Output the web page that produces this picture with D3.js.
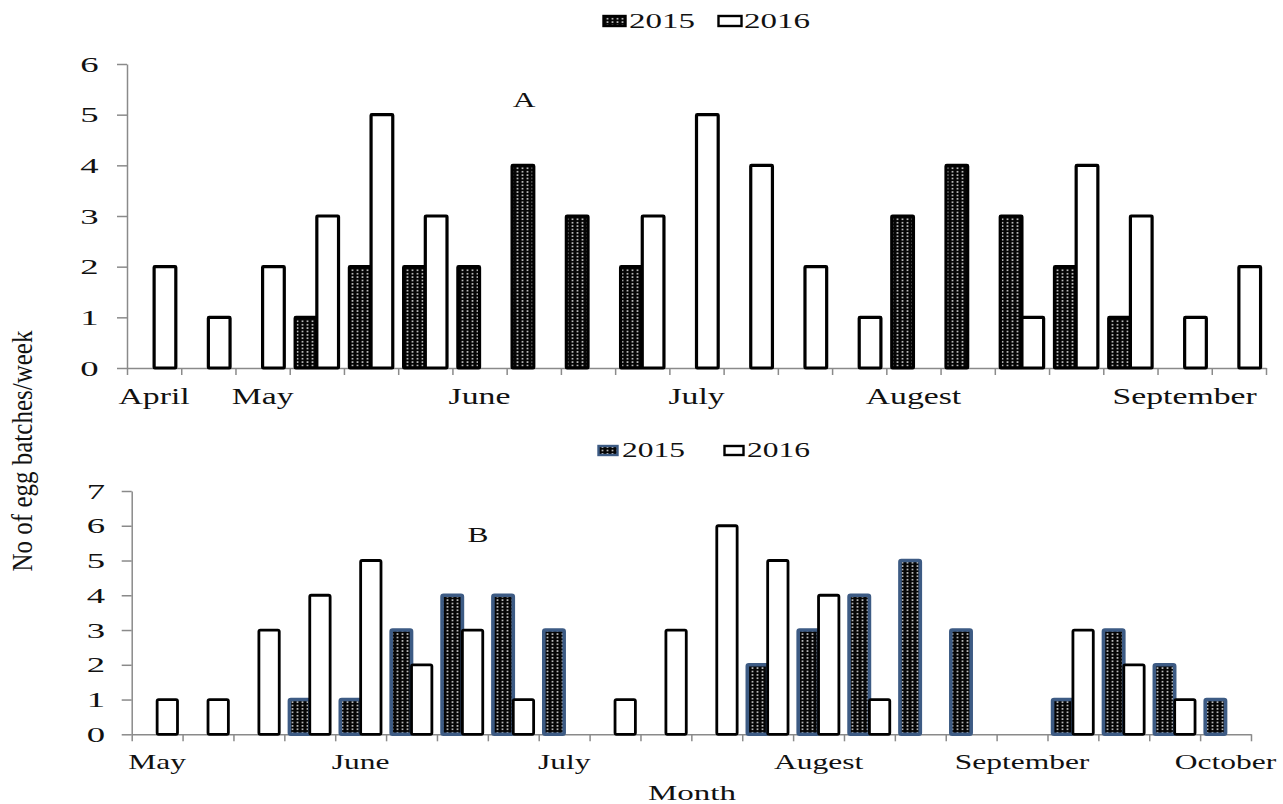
<!DOCTYPE html>
<html>
<head>
<meta charset="utf-8">
<script src="https://cdn.jsdelivr.net/npm/d3@7"></script>
<style>
  body { margin: 0; background: #fff; }
  svg { display: block; }
  text { font-family: "Liberation Serif", "Times New Roman", serif; fill: #111; }
</style>
</head>
<body>
<svg id="chart" width="1283" height="804"></svg>
<script>
// Weekly egg batch counts, two seasons
const seriesNames = ["2015", "2016"];

// Panel A: 21 weeks, April - September
const weeksA = ["April", "", "May", "", "", "", "June", "", "", "", "July", "", "", "",
                "Augest", "", "", "", "", "September", ""];
const eggsA2015 = [0, 0, 0, 1, 2, 2, 2, 4, 3, 2, 0, 0, 0, 0, 3, 4, 3, 2, 1, 0, 0];
const eggsA2016 = [2, 1, 2, 3, 5, 3, 0, 0, 0, 3, 5, 4, 2, 1, 0, 0, 1, 4, 3, 1, 2];
const yTicksA = [0, 1, 2, 3, 4, 5, 6];

// Panel B: 22 weeks, May - October
const weeksB = ["May", "", "", "", "June", "", "", "", "July", "", "", "", "", "Augest",
                "", "", "", "September", "", "", "", "October"];
const eggsB2015 = [0, 0, 0, 1, 1, 3, 4, 4, 3, 0, 0, 0, 2, 3, 4, 5, 3, 0, 1, 3, 2, 1];
const eggsB2016 = [1, 1, 3, 4, 5, 2, 3, 1, 0, 1, 3, 6, 5, 4, 1, 0, 0, 0, 3, 2, 1, 0];
const yTicksB = [0, 1, 2, 3, 4, 5, 6, 7];

const svg = d3.select("#chart");
svg.append("rect").attr("width", 1283).attr("height", 804).attr("fill", "#fff");

// dotted-grid fill used for the 2015 bars
const defs = svg.append("defs");
const pat = defs.append("pattern").attr("id", "dots")
  .attr("patternUnits", "userSpaceOnUse").attr("width", 5).attr("height", 3.4);
pat.append("rect").attr("width", 5).attr("height", 3.4).attr("fill", "#050505");
pat.append("rect").attr("x", 1.6).attr("y", 1).attr("width", 1.8).attr("height", 1.4).attr("fill", "#dcdcdc");

const AXIS = "#8a8a8a";
const BLUE = "#3d5b84";

// horizontally widened serif text
function label(g, x, y, str, size, anchor, sx) {
  return g.append("text")
    .attr("transform", `translate(${x},${y}) scale(${sx},1)`)
    .attr("text-anchor", anchor)
    .attr("font-size", size)
    .text(str);
}

function drawPanel(p) {
  const g = svg.append("g");
  const n = p.weeks.length;
  const band = d3.scaleBand().domain(d3.range(n)).range([p.x0, p.x1]);
  const edge = d3.scaleLinear().domain([0, n]).range([p.x0, p.x1]);
  const y = d3.scaleLinear().domain([0, p.yMax]).range([p.yBase, p.yTop]);
  const inner = d3.scaleBand().domain(seriesNames).range([0, band.bandwidth()])
    .paddingInner(0).paddingOuter(0.25);

  // y axis
  const ya = g.append("g").attr("transform", `translate(${p.x0},0)`)
    .call(d3.axisLeft(y).tickValues(p.yTicks).tickSize(10).tickSizeOuter(0).tickFormat(d3.format("d")));
  ya.selectAll("path, line").attr("stroke", AXIS).attr("stroke-width", 1.5);
  ya.selectAll("text")
    .attr("x", null).attr("dy", "0.34em")
    .attr("transform", `translate(${p.labelDx},0) scale(1.75,1)`)
    .attr("font-size", 21).attr("font-family", null).attr("fill", "#111");

  // x axis with ticks on week boundaries
  const xa = g.append("g").attr("transform", `translate(0,${p.yBase})`)
    .call(d3.axisBottom(edge).tickValues(d3.range(n + 1)).tickSize(7).tickSizeOuter(0).tickFormat(""));
  xa.selectAll("path, line").attr("stroke", AXIS).attr("stroke-width", 1.5);

  // month names centred on their week
  const xl = g.append("g").attr("transform", `translate(0,${p.yBase})`)
    .call(d3.axisBottom(band).tickSize(0).tickFormat(i => p.weeks[i]));
  xl.select(".domain").remove();
  xl.selectAll("text")
    .attr("y", null).attr("dy", null)
    .attr("transform", `translate(0,${p.monthDy}) scale(1.5,1)`)
    .attr("font-size", p.monthSize).attr("font-family", null).attr("fill", "#111");

  // bars
  const series = [
    { name: "2015", values: p.v2015, fill: "url(#dots)", stroke: p.stroke2015, sw: p.sw2015 },
    { name: "2016", values: p.v2016, fill: "#fff", stroke: "#000", sw: p.sw2016 }
  ];
  series.forEach(s => {
    g.append("g").selectAll("rect")
      .data(s.values.map((v, i) => ({ i, v })).filter(d => d.v > 0))
      .join("rect")
      .attr("x", d => band(d.i) + inner(s.name))
      .attr("y", d => y(d.v))
      .attr("width", inner.bandwidth())
      .attr("height", d => p.yBase - y(d.v))
      .attr("rx", p.rx)
      .attr("fill", s.fill)
      .attr("stroke", s.stroke)
      .attr("stroke-width", s.sw)
      .attr("stroke-linejoin", "round");
  });

  // panel letter
  label(g, p.tagX, p.tagY, p.tag, 21, "middle", 1.5);

  // legend
  const lg = g.append("g");
  p.legend.forEach((it, k) => {
    const s = series[k];
    lg.append("rect").attr("x", it.mx).attr("y", it.my).attr("width", it.mw).attr("height", it.mh)
      .attr("fill", s.fill).attr("stroke", s.stroke).attr("stroke-width", 2.4);
    label(lg, it.tx, it.ty, seriesNames[k], it.size, "start", 1.5);
  });
}

drawPanel({
  weeks: weeksA, v2015: eggsA2015, v2016: eggsA2016, yTicks: yTicksA, yMax: 6,
  x0: 127, x1: 1266, yBase: 368, yTop: 64,
  labelDx: -28.5, monthDy: 36, monthSize: 22.5,
  stroke2015: "#000", sw2015: 3.2, sw2016: 3.2, rx: 0.8,
  tag: "A", tagX: 524, tagY: 107,
  legend: [
    { mx: 603.5, my: 16, mw: 22, mh: 10, tx: 629, ty: 28, size: 22 },
    { mx: 718.5, my: 16, mw: 23, mh: 10, tx: 744, ty: 28, size: 22 }
  ]
});

drawPanel({
  weeks: weeksB, v2015: eggsB2015, v2016: eggsB2016, yTicks: yTicksB, yMax: 7,
  x0: 131.7, x1: 1251, yBase: 734.3, yTop: 491,
  labelDx: -26.5, monthDy: 34.7, monthSize: 21,
  stroke2015: BLUE, sw2015: 3.6, sw2016: 2.8, rx: 1.5,
  tag: "B", tagX: 478, tagY: 542,
  legend: [
    { mx: 598.5, my: 446, mw: 19, mh: 9, tx: 622, ty: 457, size: 21 },
    { mx: 724.5, my: 446, mw: 19, mh: 9, tx: 747, ty: 457, size: 21 }
  ]
});

// shared axis titles
label(svg, 692, 800, "Month", 22, "middle", 1.5);
svg.append("text")
  .attr("transform", "translate(32,451) scale(1.15,1) rotate(-90)")
  .attr("text-anchor", "middle")
  .attr("font-size", 25)
  .text("No of egg batches/week");
</script>
</body>
</html>
